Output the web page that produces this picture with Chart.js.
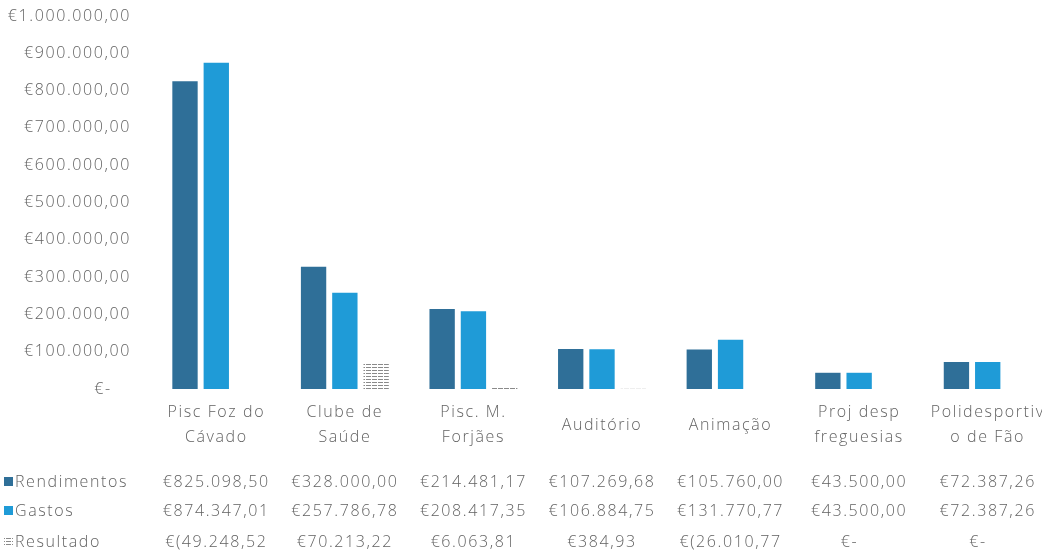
<!DOCTYPE html>
<html>
<head>
<meta charset="utf-8">
<script src="https://cdn.jsdelivr.net/npm/chart.js@4/dist/chart.umd.min.js"></script>
<style>
  html, body { margin: 0; padding: 0; background: #fff; overflow: hidden; }
  #grafico { display: block; }
</style>
</head>
<body>
<canvas id="grafico" width="1056" height="557"></canvas>
<script>
const categorias = [
    ['Pisc Foz do', 'Cávado'],
    ['Clube de', 'Saúde'],
    ['Pisc. M.', 'Forjães'],
    ['Auditório'],
    ['Animação'],
    ['Proj desp', 'freguesias'],
    ['Polidesportiv', 'o de Fão']
];
const rendimentos = [825098.50, 328000.00, 214481.17, 107269.68, 105760.00, 43500.00, 72387.26];
const gastos = [874347.01, 257786.78, 208417.35, 106884.75, 131770.77, 43500.00, 72387.26];
const resultado = [-49248.52, 70213.22, 6063.81, 384.93, -26010.77, 0, 0];
const nomesSeries = ['Rendimentos', 'Gastos', 'Resultado'];
const ticksY = [0, 100000, 200000, 300000, 400000, 500000, 600000, 700000, 800000, 900000, 1000000];

const corTexto = '#626262';
const familia = "'Open Sans', 'Liberation Sans', sans-serif";
const fonte = "300 16px " + familia;
const espacamento = '1.6px';

function formatarEuro(v) {
    if (Math.abs(v) < 0.005) return '€-\u2002\u2002';
    const partes = Math.abs(v).toFixed(2).split('.');
    const inteiro = partes[0].replace(/\B(?=(\d{3})+(?!\d))/g, '.');
    const txt = inteiro + ',' + partes[1];
    return v < 0 ? '€(' + txt : '€' + txt;
}

// padrão tracejado para a série Resultado
function criarPadrao() {
    const c = document.createElement('canvas');
    c.width = 6; c.height = 3;
    const g = c.getContext('2d');
    g.fillStyle = '#8a8a8a';
    g.fillRect(0, 1, 5, 1);
    return document.getElementById('grafico').getContext('2d').createPattern(c, 'repeat');
}
const padrao = criarPadrao();
const cores = ['#2f6f98', '#1f9bd7', padrao];

const tabelaDados = {
    id: 'tabelaDados',
    beforeDraw(chart) {
        chart.ctx.letterSpacing = espacamento;
    },
    afterDraw(chart) {
        const ctx = chart.ctx;
        const x = chart.scales.x;
        ctx.save();
        ctx.letterSpacing = espacamento;
        ctx.font = fonte;
        ctx.fillStyle = corTexto;
        ctx.textBaseline = 'middle';
        ctx.textAlign = 'center';

        categorias.forEach((linhas, i) => {
            const cx = x.getPixelForValue(i);
            if (linhas.length === 1) {
                ctx.fillText(linhas[0], cx, 425);
            } else {
                ctx.fillText(linhas[0], cx, 412);
                ctx.fillText(linhas[1], cx, 437);
            }
        });

        const series = [rendimentos, gastos, resultado];
        const ys = [482, 511, 542];
        series.forEach((serie, s) => {
            const y = ys[s];
            ctx.fillStyle = cores[s];
            ctx.fillRect(4, y - 5, 9, 9);
            ctx.fillStyle = corTexto;
            ctx.textAlign = 'left';
            ctx.fillText(nomesSeries[s], 15, y);
            ctx.textAlign = 'center';
            serie.forEach((v, i) => {
                ctx.fillText(formatarEuro(v), x.getPixelForValue(i), y);
            });
        });
        ctx.restore();
    }
};

new Chart(document.getElementById('grafico'), {
    type: 'bar',
    data: {
        labels: categorias,
        datasets: [
            { label: nomesSeries[0], data: rendimentos, backgroundColor: cores[0] },
            { label: nomesSeries[1], data: gastos, backgroundColor: cores[1] },
            { label: nomesSeries[2], data: resultado, backgroundColor: cores[2] }
        ]
    },
    options: {
        responsive: false,
        animation: false,
        devicePixelRatio: 1,
        categoryPercentage: 0.73,
        barPercentage: 0.81,
        layout: { padding: { top: 16, right: 4, bottom: 168, left: 0 } },
        plugins: { legend: { display: false }, tooltip: { enabled: false } },
        scales: {
            x: { display: false },
            y: {
                min: 0,
                max: 1000000,
                afterFit: s => { s.width = 152; },
                afterBuildTicks: s => { s.ticks = ticksY.map(v => ({ value: v })); },
                grid: { display: false, drawTicks: true, tickLength: 21 },
                border: { display: false },
                ticks: {
                    padding: 0,
                    color: corTexto,
                    font: { family: familia, size: 16, weight: 300 },
                    callback: v => formatarEuro(v)
                }
            }
        }
    },
    plugins: [tabelaDados]
});
</script>
</body>
</html>
